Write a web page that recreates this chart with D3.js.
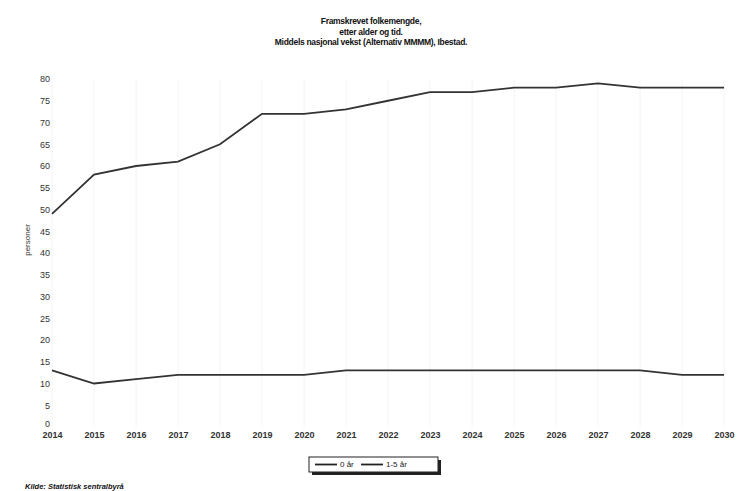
<!DOCTYPE html>
<html>
<head>
<meta charset="utf-8">
<script src="https://cdn.jsdelivr.net/npm/d3@7"></script>
<style>
  body { margin: 0; background: #fff; }
  text { font-family: "Liberation Sans", Arial, sans-serif; }
</style>
</head>
<body>
<svg id="chart" width="739" height="491"></svg>
<script>
const years = d3.range(2014, 2031);
const age0 = [13, 10, 11, 12, 12, 12, 12, 13, 13, 13, 13, 13, 13, 13, 13, 12, 12];
const age1to5 = [49, 58, 60, 61, 65, 72, 72, 73, 75, 77, 77, 78, 78, 79, 78, 78, 78];
const yTicks = d3.range(0, 81, 5);
const titleLines = [
    "Framskrevet folkemengde,",
    "etter alder og tid.",
    "Middels nasjonal vekst (Alternativ MMMM), Ibestad."
];
const seriesNames = ["0 år", "1-5 år"];

const svg = d3.select("#chart"),
    margin = { top: 79, right: 15, bottom: 64, left: 52 },
    width = +svg.attr("width") - margin.left - margin.right,
    height = +svg.attr("height") - margin.top - margin.bottom;

const g = svg.append("g").attr("transform", `translate(${margin.left},${margin.top})`);

const x = d3.scaleLinear().domain([2014, 2030]).range([0, width]);
const y = d3.scaleLinear().domain([0, 80]).range([height, 0]);

// title
svg.append("g")
    .selectAll("text")
    .data(titleLines)
    .join("text")
    .attr("x", 371)
    .attr("y", (d, i) => 24 + i * 10.5)
    .attr("text-anchor", "middle")
    .style("font-size", "8.5px")
    .style("font-weight", "bold")
    .style("letter-spacing", "-0.3px")
    .attr("fill", "#111")
    .text(d => d);

// faint gridlines
g.append("g")
    .selectAll("line")
    .data(years)
    .join("line")
    .attr("x1", d => x(d)).attr("x2", d => x(d))
    .attr("y1", 0).attr("y2", height)
    .attr("stroke", "#f4f4f4");

// y axis labels
const yAxis = g.append("g")
    .call(d3.axisLeft(y).tickValues(yTicks).tickSize(0).tickPadding(2));
yAxis.select(".domain").remove();
yAxis.selectAll("text")
    .style("font-size", "9px")
    .attr("fill", "#333");
// the zero label sits right on top of the first year label, lift it a bit
yAxis.selectAll("text").filter(d => d === 0).attr("dy", "-0.1em");

// x axis labels
const xAxis = g.append("g")
    .attr("transform", `translate(0,${height})`)
    .call(d3.axisBottom(x).tickValues(years).tickFormat(d3.format("d")).tickSize(0).tickPadding(5));
xAxis.select(".domain").remove();
xAxis.selectAll("text")
    .style("font-size", "9px")
    .style("font-weight", "bold")
    .attr("fill", "#333");

// y axis title
svg.append("text")
    .attr("transform", "translate(30,240) rotate(-90)")
    .attr("text-anchor", "middle")
    .style("font-size", "8px")
    .attr("fill", "#333")
    .text("personer");

const line = d3.line()
    .x((d, i) => x(years[i]))
    .y(d => y(d));

[age0, age1to5].forEach(s => {
    g.append("path")
        .datum(s)
        .attr("d", line)
        .attr("fill", "none")
        .attr("stroke", "#333")
        .attr("stroke-width", 1.8);
});

// legend
const legend = svg.append("g").attr("transform", "translate(309,457)");
legend.append("rect")
    .attr("x", 3).attr("y", 3)
    .attr("width", 129).attr("height", 15)
    .attr("fill", "#222");
legend.append("rect")
    .attr("width", 129).attr("height", 15)
    .attr("fill", "#fff")
    .attr("stroke", "#222")
    .attr("stroke-width", 1);
const items = legend.selectAll("g.item")
    .data(seriesNames)
    .join("g")
    .attr("class", "item")
    .attr("transform", (d, i) => `translate(${6 + i * 46},7.5)`);
items.append("line")
    .attr("x1", 0).attr("x2", 22)
    .attr("stroke", "#222")
    .attr("stroke-width", 1.8);
items.append("text")
    .attr("x", 25)
    .attr("dy", "0.35em")
    .style("font-size", "8px")
    .attr("fill", "#222")
    .text(d => d);

// source
svg.append("text")
    .attr("x", 25)
    .attr("y", 489)
    .style("font-size", "7.5px")
    .style("font-style", "italic")
    .style("font-weight", "bold")
    .attr("fill", "#111")
    .text("Kilde: Statistisk sentralbyrå");
</script>
</body>
</html>
